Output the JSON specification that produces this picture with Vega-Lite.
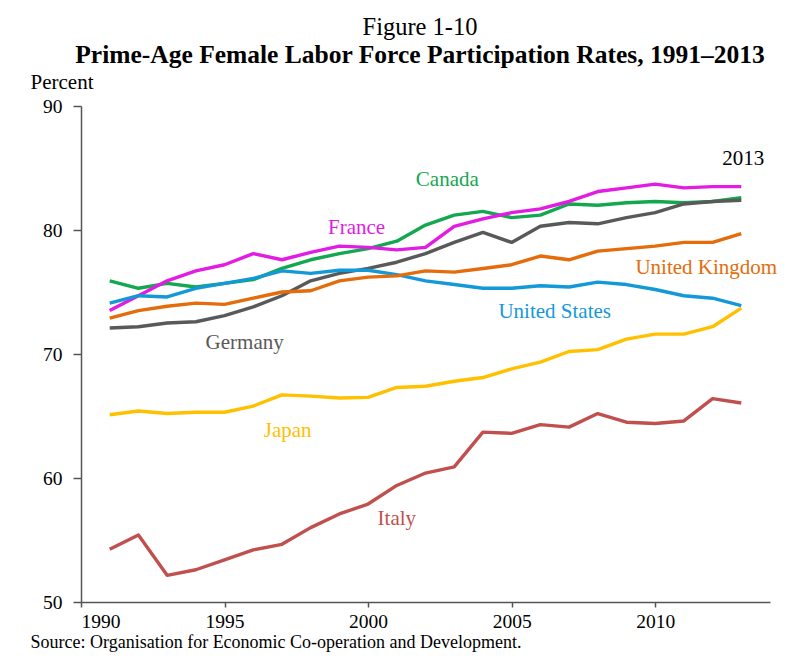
{
  "$schema": "https://vega.github.io/schema/vega-lite/v6.json",
  "width": 689,
  "height": 496,
  "autosize": {"type": "none"},
  "padding": {"left": 81, "top": 106, "right": 36, "bottom": 60},
  "background": "white",
  "title": {
    "text": "Figure 1-10",
    "subtitle": "Prime-Age Female Labor Force Participation Rates, 1991–2013",
    "font": "Liberation Serif",
    "fontSize": 24.5,
    "fontWeight": "normal",
    "color": "black",
    "subtitleFont": "Liberation Serif",
    "subtitleFontSize": 25.5,
    "subtitleFontWeight": "bold",
    "subtitleColor": "black",
    "subtitlePadding": 2,
    "anchor": "middle",
    "frame": "group",
    "dx": -5.5,
    "offset": 2
  },
  "datasets": {
    "series": [
      {"country":"Canada","year":1991,"value":75.9},{"country":"Canada","year":1992,"value":75.3},{"country":"Canada","year":1993,"value":75.7},{"country":"Canada","year":1994,"value":75.4},{"country":"Canada","year":1995,"value":75.7},{"country":"Canada","year":1996,"value":76.0},{"country":"Canada","year":1997,"value":76.9},{"country":"Canada","year":1998,"value":77.6},{"country":"Canada","year":1999,"value":78.1},{"country":"Canada","year":2000,"value":78.5},{"country":"Canada","year":2001,"value":79.1},{"country":"Canada","year":2002,"value":80.4},{"country":"Canada","year":2003,"value":81.2},{"country":"Canada","year":2004,"value":81.5},{"country":"Canada","year":2005,"value":81.0},{"country":"Canada","year":2006,"value":81.2},{"country":"Canada","year":2007,"value":82.1},{"country":"Canada","year":2008,"value":82.0},{"country":"Canada","year":2009,"value":82.2},{"country":"Canada","year":2010,"value":82.3},{"country":"Canada","year":2011,"value":82.2},{"country":"Canada","year":2012,"value":82.3},{"country":"Canada","year":2013,"value":82.6},
      {"country":"France","year":1991,"value":73.5},{"country":"France","year":1992,"value":74.7},{"country":"France","year":1993,"value":75.9},{"country":"France","year":1994,"value":76.7},{"country":"France","year":1995,"value":77.2},{"country":"France","year":1996,"value":78.1},{"country":"France","year":1997,"value":77.6},{"country":"France","year":1998,"value":78.2},{"country":"France","year":1999,"value":78.7},{"country":"France","year":2000,"value":78.6},{"country":"France","year":2001,"value":78.4},{"country":"France","year":2002,"value":78.6},{"country":"France","year":2003,"value":80.3},{"country":"France","year":2004,"value":80.9},{"country":"France","year":2005,"value":81.4},{"country":"France","year":2006,"value":81.7},{"country":"France","year":2007,"value":82.3},{"country":"France","year":2008,"value":83.1},{"country":"France","year":2009,"value":83.4},{"country":"France","year":2010,"value":83.7},{"country":"France","year":2011,"value":83.4},{"country":"France","year":2012,"value":83.5},{"country":"France","year":2013,"value":83.5},
      {"country":"Germany","year":1991,"value":72.1},{"country":"Germany","year":1992,"value":72.2},{"country":"Germany","year":1993,"value":72.5},{"country":"Germany","year":1994,"value":72.6},{"country":"Germany","year":1995,"value":73.1},{"country":"Germany","year":1996,"value":73.8},{"country":"Germany","year":1997,"value":74.7},{"country":"Germany","year":1998,"value":75.9},{"country":"Germany","year":1999,"value":76.5},{"country":"Germany","year":2000,"value":76.9},{"country":"Germany","year":2001,"value":77.4},{"country":"Germany","year":2002,"value":78.1},{"country":"Germany","year":2003,"value":79.0},{"country":"Germany","year":2004,"value":79.8},{"country":"Germany","year":2005,"value":79.0},{"country":"Germany","year":2006,"value":80.3},{"country":"Germany","year":2007,"value":80.6},{"country":"Germany","year":2008,"value":80.5},{"country":"Germany","year":2009,"value":81.0},{"country":"Germany","year":2010,"value":81.4},{"country":"Germany","year":2011,"value":82.1},{"country":"Germany","year":2012,"value":82.3},{"country":"Germany","year":2013,"value":82.4},
      {"country":"United States","year":1991,"value":74.1},{"country":"United States","year":1992,"value":74.7},{"country":"United States","year":1993,"value":74.6},{"country":"United States","year":1994,"value":75.3},{"country":"United States","year":1995,"value":75.7},{"country":"United States","year":1996,"value":76.1},{"country":"United States","year":1997,"value":76.7},{"country":"United States","year":1998,"value":76.5},{"country":"United States","year":1999,"value":76.75},{"country":"United States","year":2000,"value":76.75},{"country":"United States","year":2001,"value":76.4},{"country":"United States","year":2002,"value":75.9},{"country":"United States","year":2003,"value":75.6},{"country":"United States","year":2004,"value":75.3},{"country":"United States","year":2005,"value":75.3},{"country":"United States","year":2006,"value":75.5},{"country":"United States","year":2007,"value":75.4},{"country":"United States","year":2008,"value":75.8},{"country":"United States","year":2009,"value":75.6},{"country":"United States","year":2010,"value":75.2},{"country":"United States","year":2011,"value":74.7},{"country":"United States","year":2012,"value":74.5},{"country":"United States","year":2013,"value":73.9},
      {"country":"United Kingdom","year":1991,"value":72.9},{"country":"United Kingdom","year":1992,"value":73.5},{"country":"United Kingdom","year":1993,"value":73.85},{"country":"United Kingdom","year":1994,"value":74.1},{"country":"United Kingdom","year":1995,"value":74.0},{"country":"United Kingdom","year":1996,"value":74.5},{"country":"United Kingdom","year":1997,"value":75.0},{"country":"United Kingdom","year":1998,"value":75.1},{"country":"United Kingdom","year":1999,"value":75.9},{"country":"United Kingdom","year":2000,"value":76.2},{"country":"United Kingdom","year":2001,"value":76.3},{"country":"United Kingdom","year":2002,"value":76.7},{"country":"United Kingdom","year":2003,"value":76.6},{"country":"United Kingdom","year":2004,"value":76.9},{"country":"United Kingdom","year":2005,"value":77.2},{"country":"United Kingdom","year":2006,"value":77.9},{"country":"United Kingdom","year":2007,"value":77.6},{"country":"United Kingdom","year":2008,"value":78.3},{"country":"United Kingdom","year":2009,"value":78.5},{"country":"United Kingdom","year":2010,"value":78.7},{"country":"United Kingdom","year":2011,"value":79.0},{"country":"United Kingdom","year":2012,"value":79.0},{"country":"United Kingdom","year":2013,"value":79.7},
      {"country":"Japan","year":1991,"value":65.1},{"country":"Japan","year":1992,"value":65.4},{"country":"Japan","year":1993,"value":65.2},{"country":"Japan","year":1994,"value":65.3},{"country":"Japan","year":1995,"value":65.3},{"country":"Japan","year":1996,"value":65.8},{"country":"Japan","year":1997,"value":66.7},{"country":"Japan","year":1998,"value":66.6},{"country":"Japan","year":1999,"value":66.45},{"country":"Japan","year":2000,"value":66.5},{"country":"Japan","year":2001,"value":67.3},{"country":"Japan","year":2002,"value":67.4},{"country":"Japan","year":2003,"value":67.8},{"country":"Japan","year":2004,"value":68.1},{"country":"Japan","year":2005,"value":68.8},{"country":"Japan","year":2006,"value":69.35},{"country":"Japan","year":2007,"value":70.2},{"country":"Japan","year":2008,"value":70.35},{"country":"Japan","year":2009,"value":71.2},{"country":"Japan","year":2010,"value":71.6},{"country":"Japan","year":2011,"value":71.6},{"country":"Japan","year":2012,"value":72.2},{"country":"Japan","year":2013,"value":73.7},
      {"country":"Italy","year":1991,"value":54.25},{"country":"Italy","year":1992,"value":55.4},{"country":"Italy","year":1993,"value":52.15},{"country":"Italy","year":1994,"value":52.6},{"country":"Italy","year":1995,"value":53.4},{"country":"Italy","year":1996,"value":54.2},{"country":"Italy","year":1997,"value":54.65},{"country":"Italy","year":1998,"value":56.0},{"country":"Italy","year":1999,"value":57.1},{"country":"Italy","year":2000,"value":57.9},{"country":"Italy","year":2001,"value":59.4},{"country":"Italy","year":2002,"value":60.4},{"country":"Italy","year":2003,"value":60.9},{"country":"Italy","year":2004,"value":63.7},{"country":"Italy","year":2005,"value":63.6},{"country":"Italy","year":2006,"value":64.3},{"country":"Italy","year":2007,"value":64.1},{"country":"Italy","year":2008,"value":65.2},{"country":"Italy","year":2009,"value":64.5},{"country":"Italy","year":2010,"value":64.4},{"country":"Italy","year":2011,"value":64.6},{"country":"Italy","year":2012,"value":66.4},{"country":"Italy","year":2013,"value":66.05}
    ],
    "labels": [
      {"country":"Canada","label":"Canada","year":2002.76,"value":84.0},
      {"country":"France","label":"France","year":1999.6,"value":80.2},
      {"country":"United Kingdom","label":"United Kingdom","year":2011.78,"value":76.9},
      {"country":"United States","label":"United States","year":2006.5,"value":73.4},
      {"country":"Germany","label":"Germany","year":1995.7,"value":70.9},
      {"country":"Japan","label":"Japan","year":1997.2,"value":63.8},
      {"country":"Italy","label":"Italy","year":2001.0,"value":56.7},
      {"country":"2013","label":"2013","year":2013.07,"value":85.7}
    ]
  },
  "encoding": {
    "x": {
      "field": "year", "type": "quantitative",
      "scale": {"domain": [1990, 2014], "nice": false, "zero": false},
      "axis": {
        "values": [1990, 1995, 2000, 2005, 2010],
        "format": "d",
        "tickSize": 5,
        "labelPadding": 5,
        "title": "Source: Organisation for Economic Co-operation and Development.",
        "titleX": -51,
        "titleY": 45,
        "titleAlign": "left",
        "titleAnchor": null,
        "titleBaseline": "alphabetic",
        "titleFont": "Liberation Serif",
        "titleFontSize": 18,
        "titleFontWeight": "normal",
        "titleColor": "black"
      }
    },
    "y": {
      "field": "value", "type": "quantitative",
      "scale": {"domain": [50, 90], "nice": false, "zero": false},
      "axis": {
        "values": [50, 60, 70, 80, 90],
        "tickSize": 8,
        "labelPadding": 11,
        "title": "Percent",
        "titleAngle": 0,
        "titleX": -51,
        "titleY": -18,
        "titleAlign": "left",
        "titleAnchor": null,
        "titleBaseline": "alphabetic",
        "titleFont": "Liberation Serif",
        "titleFontSize": 21,
        "titleFontWeight": "normal",
        "titleColor": "black"
      }
    },
    "color": {
      "field": "country", "type": "nominal",
      "scale": {
        "domain": ["Canada", "France", "Germany", "United States", "United Kingdom", "Japan", "Italy", "2013"],
        "range": ["#13a84f", "#e31ce3", "#595959", "#1499d8", "#e46c0a", "#ffc000", "#c0504d", "#000000"]
      },
      "legend": null
    }
  },
  "layer": [
    {
      "data": {"name": "series"},
      "mark": {"type": "line", "strokeWidth": 3.4, "strokeJoin": "round"}
    },
    {
      "data": {"name": "labels"},
      "mark": {"type": "text", "font": "Liberation Serif", "fontSize": 21, "align": "center", "baseline": "middle"},
      "encoding": {"text": {"field": "label"}}
    }
  ],
  "config": {
    "view": {"stroke": null},
    "axis": {
      "grid": false,
      "labelFont": "Liberation Serif",
      "labelFontSize": 19.5,
      "labelColor": "black",
      "domainColor": "#555555",
      "domainWidth": 1.5,
      "tickColor": "#555555",
      "tickWidth": 1.5
    }
  }
}
